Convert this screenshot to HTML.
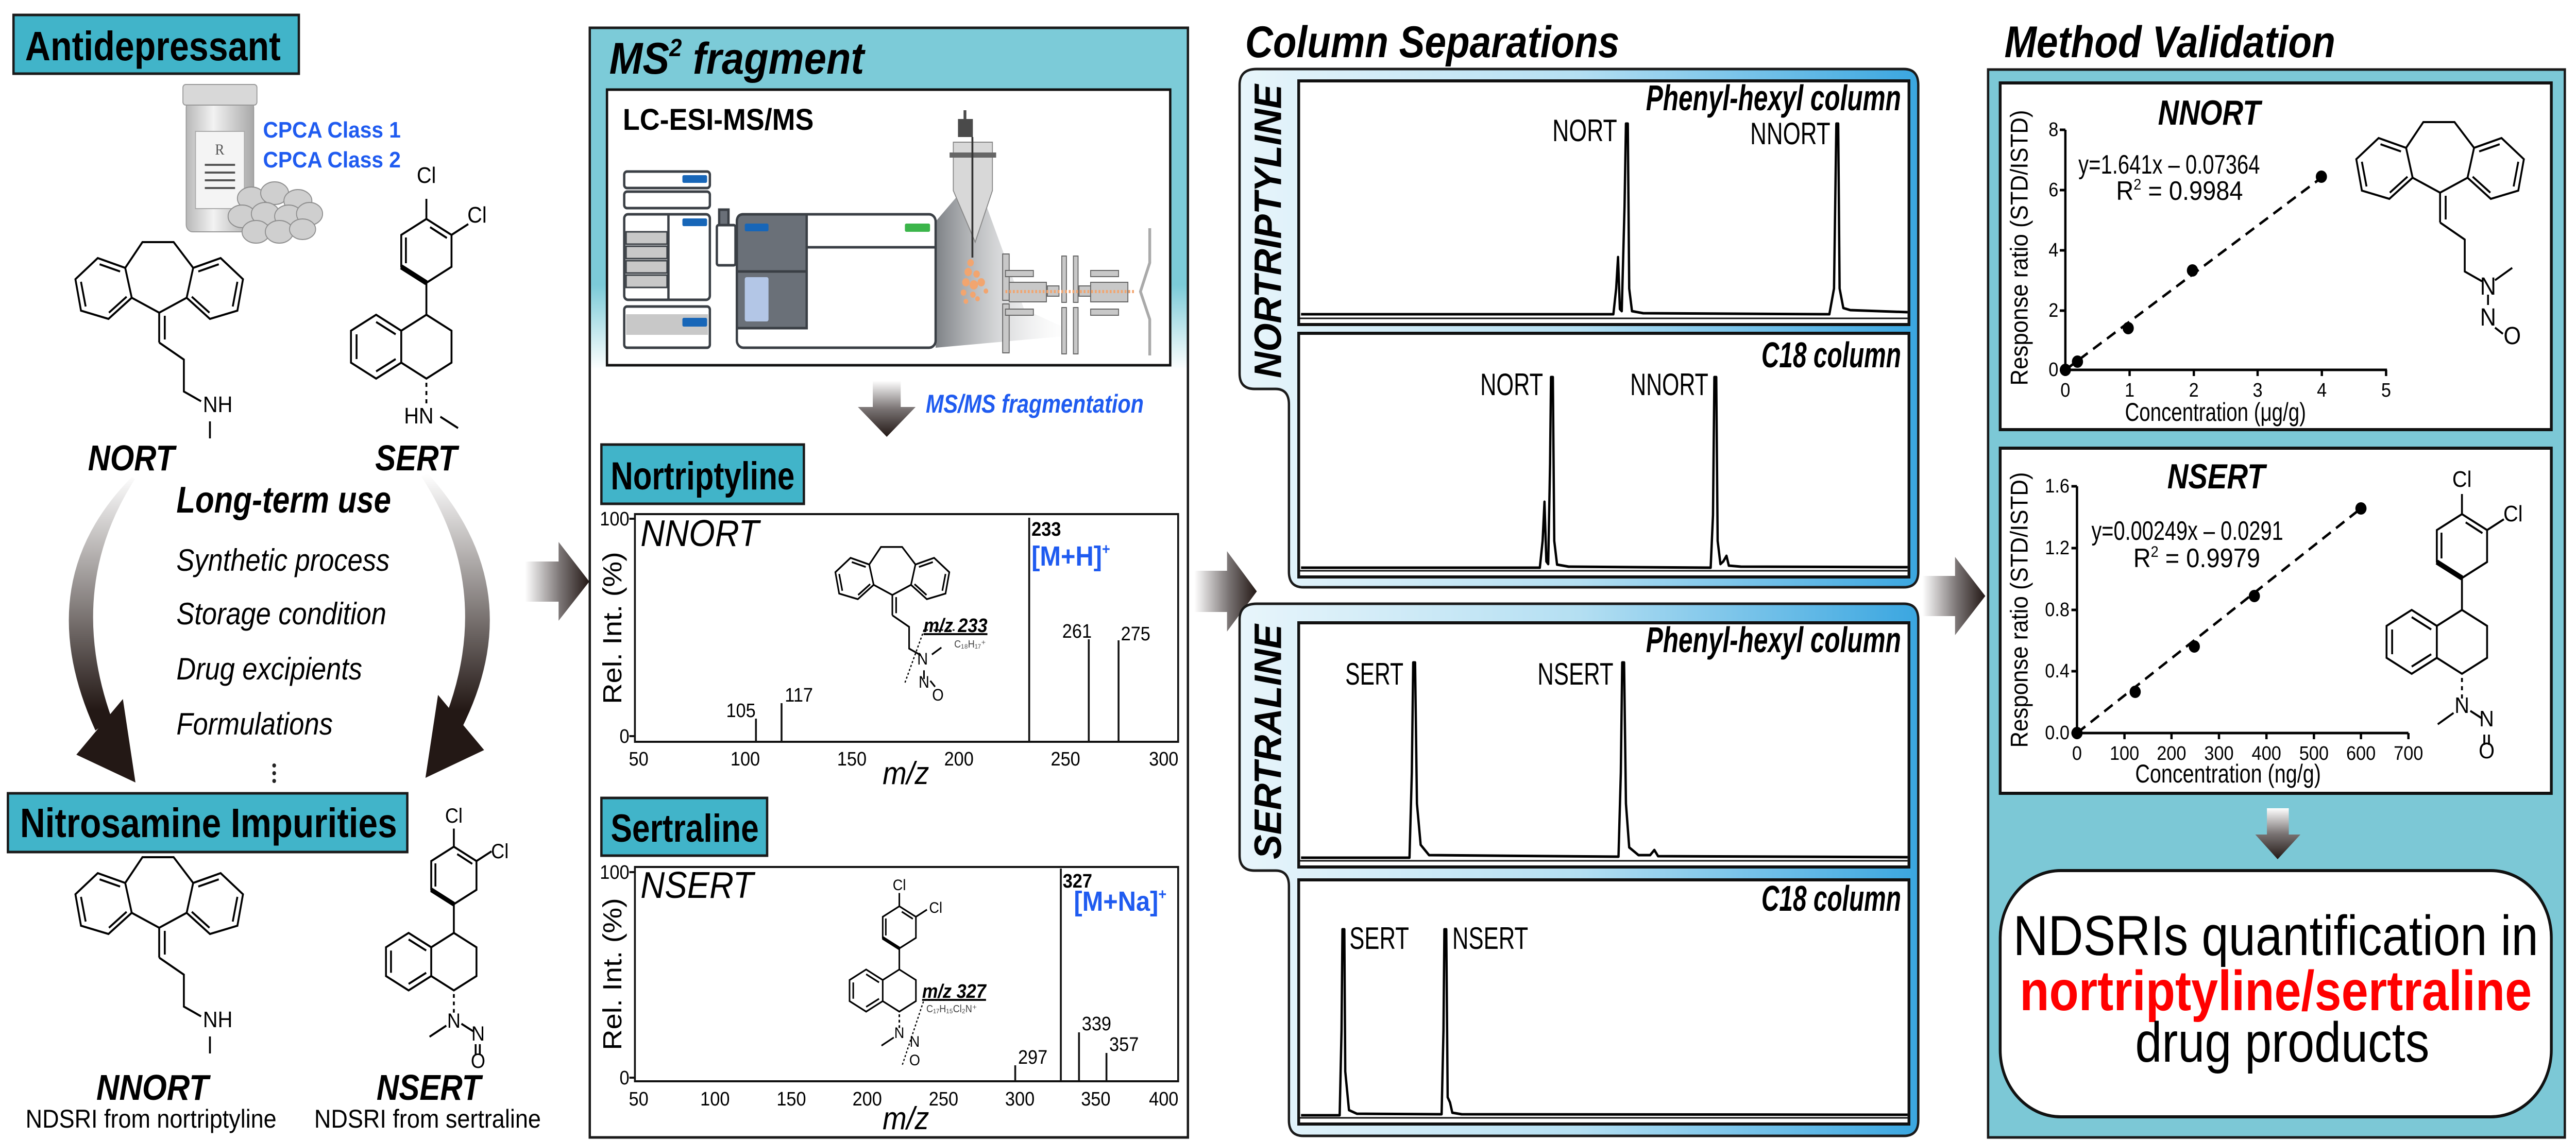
<!DOCTYPE html>
<html><head><meta charset="utf-8"><style>
html,body{margin:0;padding:0;background:#fff;width:100%;height:100%;overflow:hidden;}
svg{display:block;width:100vw;height:100vh;font-family:"Liberation Sans",Arial,sans-serif;}
</style></head><body>
<svg viewBox="0 0 5534 2213" preserveAspectRatio="none" xmlns="http://www.w3.org/2000/svg">
<defs>
<linearGradient id="msbg" x1="0" y1="54" x2="0" y2="720" gradientUnits="userSpaceOnUse"><stop offset="0" stop-color="#7ccbd8"/><stop offset="0.75" stop-color="#7ccbd8"/><stop offset="1" stop-color="#ffffff"/></linearGradient>
<linearGradient id="colg" x1="0" y1="0" x2="1" y2="0"><stop offset="0" stop-color="#e8f5fb"/><stop offset="0.5" stop-color="#b4dff2"/><stop offset="1" stop-color="#3aa6e0"/></linearGradient>
<linearGradient id="harr" x1="0" y1="0" x2="1" y2="0"><stop offset="0" stop-color="#ffffff"/><stop offset="0.55" stop-color="#7a7474"/><stop offset="1" stop-color="#231815"/></linearGradient>
<linearGradient id="varr" x1="0" y1="0" x2="0" y2="1"><stop offset="0" stop-color="#ffffff"/><stop offset="0.5" stop-color="#7a7474"/><stop offset="1" stop-color="#231815"/></linearGradient>
<linearGradient id="carr" x1="0" y1="920" x2="0" y2="1380" gradientUnits="userSpaceOnUse"><stop offset="0" stop-color="#ffffff"/><stop offset="1" stop-color="#231815"/></linearGradient>
<linearGradient id="bottle" x1="0" y1="0" x2="1" y2="0"><stop offset="0" stop-color="#b8b8b8"/><stop offset="0.4" stop-color="#f2f2f2"/><stop offset="1" stop-color="#a8a8a8"/></linearGradient>
<linearGradient id="cone" x1="0" y1="0" x2="1" y2="0"><stop offset="0" stop-color="#6f7378"/><stop offset="1" stop-color="#ffffff" stop-opacity="0"/></linearGradient>
</defs>

<rect x="29" y="29" width="613" height="114" fill="#41b4c9" stroke="#1a1a1a" stroke-width="5"/>
<text x="54" y="117" font-size="80" font-weight="bold" textLength="549" lengthAdjust="spacingAndGlyphs">Antidepressant</text>

<rect x="400" y="195" width="145" height="255" rx="14" fill="url(#bottle)" stroke="#999" stroke-width="2"/>
<rect x="393" y="164" width="159" height="40" rx="6" fill="#d8d8d8" stroke="#999" stroke-width="2"/>
<rect x="420" y="255" width="105" height="150" fill="#f4f4f4" stroke="#aaa" stroke-width="2"/>
<text x="462" y="300" font-family="Liberation Serif,serif" font-size="30" fill="#555">R</text>
<path d="M440 320 H505 M440 335 H505 M440 350 H505 M440 365 H505" stroke="#555" stroke-width="4"/>
<g fill="#cfcfcf" stroke="#8e8e8e" stroke-width="2">
<ellipse cx="540" cy="385" rx="30" ry="22"/><ellipse cx="590" cy="375" rx="30" ry="22"/><ellipse cx="640" cy="390" rx="30" ry="22"/>
<ellipse cx="520" cy="420" rx="30" ry="22"/><ellipse cx="570" cy="415" rx="30" ry="22"/><ellipse cx="620" cy="420" rx="30" ry="22"/><ellipse cx="665" cy="415" rx="28" ry="22"/>
<ellipse cx="550" cy="450" rx="30" ry="22"/><ellipse cx="600" cy="450" rx="30" ry="22"/><ellipse cx="650" cy="445" rx="28" ry="20"/>
</g>
<text x="565" y="267" font-size="44" font-weight="bold" fill="#1f5bf0" textLength="296" lengthAdjust="spacingAndGlyphs">CPCA Class 1</text>
<text x="565" y="325" font-size="44" font-weight="bold" fill="#1f5bf0" textLength="296" lengthAdjust="spacingAndGlyphs">CPCA Class 2</text>

<g transform="translate(342,607)" fill="none" stroke="#000" stroke-width="4">
<path d="M0,0 L-59,-29 L-109,12 L-168,-4 L-180,-65 L-132,-106 L-73,-87 L-59,-29 M-73,-87 L-36,-137 L31,-137 L73,-87 L59,-29 L0,0 M59,-29 L109,12 L168,-4 L180,-65 L132,-106 L73,-87"/>
<path d="M-168,-60 L-158,-12 M-108,0 L-70,-31 M-84,-80 L-128,-94 M168,-60 L158,-12 M108,0 L70,-31 M84,-80 L128,-94"/>
<path d="M0,0 L0,58 M12,6 L12,52 M0,58 L53,91 L53,153 L90,172 M109,211 L109,244"/>
</g>
<text x="436" y="800" font-size="44">NH</text>
<text x="189" y="913" font-size="70" font-weight="bold" font-style="italic" textLength="186" lengthAdjust="spacingAndGlyphs">NORT</text>

<g transform="translate(916,611)" fill="none" stroke="#000" stroke-width="4">
<path d="M0,-62 L54,-93 L54,-155 L0,-186 L-54,-155 L-54,-93 Z M8,-170 L44,-149 M-44,-100 L-44,-150 M0,0 L0,-62"/>
<path d="M0,-62 L-54,-93" stroke-width="10"/>
<path d="M0,-186 L0,-225 M54,-155 L90,-176"/>
<path d="M0,0 L54,31 L54,93 L0,124 L-54,93 L-54,31 Z M-54,31 L-108,0 L-162,31 L-162,93 L-108,124 L-54,93 M-150,38 L-150,86 M-108,14 L-66,38 M-108,110 L-66,86"/>
<path d="M0,132 L0,140 M0,148 L0,156 M0,164 L0,172 M30,198 L68,220"/>
</g>
<text x="916" y="355" font-size="44" text-anchor="middle">Cl</text>
<text x="1004" y="432" font-size="44">Cl</text>
<text x="868" y="822" font-size="44">HN</text>
<text x="806" y="913" font-size="70" font-weight="bold" font-style="italic" textLength="176" lengthAdjust="spacingAndGlyphs">SERT</text>

<text x="379" y="995" font-size="72" font-weight="bold" font-style="italic" textLength="461" lengthAdjust="spacingAndGlyphs">Long-term use</text>
<text x="379" y="1108" font-size="60" font-style="italic" textLength="458" lengthAdjust="spacingAndGlyphs">Synthetic process</text>
<text x="379" y="1212" font-size="60" font-style="italic" textLength="451" lengthAdjust="spacingAndGlyphs">Storage condition</text>
<text x="379" y="1319" font-size="60" font-style="italic" textLength="399" lengthAdjust="spacingAndGlyphs">Drug excipients</text>
<text x="379" y="1426" font-size="60" font-style="italic" textLength="336" lengthAdjust="spacingAndGlyphs">Formulations</text>
<g fill="#222"><circle cx="589" cy="1486" r="4"/><circle cx="589" cy="1501" r="4"/><circle cx="589" cy="1516" r="4"/></g>

<path d="M283,926 Q60,1130 205,1418 L240,1395 Q140,1140 290,930 Z" fill="url(#carr)"/>
<path d="M164,1465 L264,1357 L291,1519 Z" fill="#231815"/>
<path d="M918,918 Q1140,1140 995,1408 L960,1385 Q1060,1140 905,925 Z" fill="url(#carr)"/>
<path d="M941,1349 L1040,1456 L914,1510 Z" fill="#231815"/>

<rect x="17" y="1540" width="858" height="114" fill="#41b4c9" stroke="#1a1a1a" stroke-width="5"/>
<text x="43" y="1625" font-size="80" font-weight="bold" textLength="810" lengthAdjust="spacingAndGlyphs">Nitrosamine Impurities</text>

<g transform="translate(342,1801)" fill="none" stroke="#000" stroke-width="4">
<path d="M0,0 L-59,-29 L-109,12 L-168,-4 L-180,-65 L-132,-106 L-73,-87 L-59,-29 M-73,-87 L-36,-137 L31,-137 L73,-87 L59,-29 L0,0 M59,-29 L109,12 L168,-4 L180,-65 L132,-106 L73,-87"/>
<path d="M-168,-60 L-158,-12 M-108,0 L-70,-31 M-84,-80 L-128,-94 M168,-60 L158,-12 M108,0 L70,-31 M84,-80 L128,-94"/>
<path d="M0,0 L0,58 M12,6 L12,52 M0,58 L53,91 L53,153 L90,172 M109,211 L109,244"/>
</g>
<text x="436" y="1994" font-size="44">NH</text>
<text x="207" y="2135" font-size="70" font-weight="bold" font-style="italic" textLength="241" lengthAdjust="spacingAndGlyphs">NNORT</text>
<text x="55" y="2189" font-size="50" textLength="539" lengthAdjust="spacingAndGlyphs">NDSRI from nortriptyline</text>

<g transform="translate(975,1811) scale(0.9)" fill="none" stroke="#000" stroke-width="4.4">
<path d="M0,-62 L54,-93 L54,-155 L0,-186 L-54,-155 L-54,-93 Z M8,-170 L44,-149 M-44,-100 L-44,-150 M0,0 L0,-62"/>
<path d="M0,-62 L-54,-93" stroke-width="10"/>
<path d="M0,-186 L0,-225 M54,-155 L90,-176"/>
<path d="M0,0 L54,31 L54,93 L0,124 L-54,93 L-54,31 Z M-54,31 L-108,0 L-162,31 L-162,93 L-108,124 L-54,93 M-150,38 L-150,86 M-108,14 L-66,38 M-108,110 L-66,86"/>
<path d="M0,132 L0,140 M0,148 L0,156 M0,164 L0,172 M-18,200 L-58,224 M18,196 L46,212 M52,240 L52,262 M62,240 L62,262"/>
</g>
<text x="975" y="1597" font-size="40" text-anchor="middle">Cl</text>
<text x="1055" y="1666" font-size="40">Cl</text>
<text x="975" y="1995" font-size="40" text-anchor="middle">N</text>
<text x="1027" y="2020" font-size="40" text-anchor="middle">N</text>
<text x="1027" y="2073" font-size="40" text-anchor="middle">O</text>
<text x="809" y="2135" font-size="70" font-weight="bold" font-style="italic" textLength="224" lengthAdjust="spacingAndGlyphs">NSERT</text>
<text x="675" y="2189" font-size="50" textLength="487" lengthAdjust="spacingAndGlyphs">NDSRI from sertraline</text>

<path d="M1128,1090 H1200 V1052 L1266,1129 L1200,1205 V1168 H1128 Z" fill="url(#harr)"/>

<rect x="1267" y="54" width="1285" height="2154" fill="url(#msbg)" stroke="#1a1a1a" stroke-width="5"/>
<text x="1309" y="143" font-size="86" font-weight="bold" font-style="italic">MS<tspan font-size="48" dy="-34">2</tspan><tspan dy="34"> fragment</tspan></text>
<rect x="1304" y="174" width="1210" height="535" fill="#fff" stroke="#111" stroke-width="5"/>
<text x="1338" y="252" font-size="58" font-weight="bold" textLength="410" lengthAdjust="spacingAndGlyphs">LC-ESI-MS/MS</text>
<polygon points="2010,430 2095,340 2200,600 2320,650 2010,675" fill="url(#cone)" opacity="0.9"/>
<g stroke="#3a3f45" stroke-width="5" fill="#fff">
<rect x="1341" y="333" width="184" height="32" rx="6"/>
<rect x="1341" y="372" width="184" height="32" rx="6"/>
<rect x="1341" y="416" width="184" height="166" rx="8"/>
<rect x="1341" y="595" width="184" height="80" rx="6"/>
<rect x="1545" y="407" width="20" height="30" fill="#6a7078"/>
<rect x="1540" y="437" width="40" height="78" rx="4"/>
<rect x="1583" y="416" width="427" height="259" rx="14"/>
<path d="M1583,430 Q1583,416 1597,416 H1733 V637 H1583 Z" fill="#6a7078"/>
<line x1="1733" y1="480" x2="2010" y2="480"/>
<line x1="1583" y1="527" x2="1733" y2="527"/>
<line x1="1436" y1="416" x2="1436" y2="582"/>
</g>
<rect x="1345" y="610" width="176" height="40" fill="#c8c8c8"/>
<g fill="#c8c8c8" stroke="#3a3f45" stroke-width="3"><rect x="1345" y="450" width="88" height="24"/><rect x="1345" y="478" width="88" height="24"/><rect x="1345" y="506" width="88" height="24"/><rect x="1345" y="534" width="88" height="24"/></g>
<g fill="#1766b8"><rect x="1466" y="340" width="53" height="15" rx="3"/><rect x="1466" y="424" width="53" height="15" rx="3"/><rect x="1466" y="617" width="53" height="17" rx="3"/><rect x="1600" y="434" width="51" height="15" rx="3"/></g>
<rect x="1944" y="434" width="54" height="16" rx="3" fill="#3bb54a"/>
<rect x="1600" y="538" width="51" height="86" rx="4" fill="#b3c6e6"/>
<rect x="2058" y="231" width="32" height="35" fill="#4a4a4a"/>
<rect x="2070" y="214" width="6" height="18" fill="#4a4a4a"/>
<path d="M2048,276 H2132 V370 L2095,470 L2048,370 Z" fill="#d8d8d8" stroke="#888" stroke-width="2"/>
<rect x="2040" y="296" width="100" height="10" fill="#666"/>
<line x1="2089" y1="266" x2="2089" y2="500" stroke="#333" stroke-width="4"/>
<g fill="#f2a56f"><circle cx="2085" cy="510" r="7"/><circle cx="2080" cy="528" r="8"/><circle cx="2098" cy="532" r="7"/><circle cx="2075" cy="548" r="8"/><circle cx="2092" cy="553" r="9"/><circle cx="2108" cy="548" r="8"/><circle cx="2070" cy="568" r="6"/><circle cx="2090" cy="572" r="6"/><circle cx="2075" cy="585" r="5"/><circle cx="2100" cy="580" r="5"/><circle cx="2118" cy="565" r="5"/></g>
<g fill="#c8c8c8" stroke="#666" stroke-width="2">
<rect x="2154" y="493" width="14" height="90"/><rect x="2154" y="590" width="14" height="95"/>
<rect x="2160" y="525" width="60" height="12"/><rect x="2160" y="600" width="60" height="12"/>
<rect x="2168" y="548" width="80" height="38"/><rect x="2250" y="555" width="25" height="20"/>
<rect x="2281" y="497" width="10" height="90"/><rect x="2306" y="497" width="10" height="90"/>
<rect x="2281" y="597" width="10" height="90"/><rect x="2306" y="597" width="10" height="90"/>
<rect x="2318" y="555" width="25" height="20"/><rect x="2343" y="548" width="80" height="38"/>
<rect x="2343" y="525" width="60" height="12"/><rect x="2343" y="600" width="60" height="12"/>
</g>
<line x1="2160" y1="566" x2="2440" y2="566" stroke="#f2a56f" stroke-width="6" stroke-dasharray="4 4"/>
<path d="M2470,443 V510 L2450,566 L2470,620 V690" fill="none" stroke="#aaa" stroke-width="6"/>

<path d="M1875,739 H1935 V790 H1967 L1905,848 L1843,790 H1875 Z" fill="url(#varr)"/>
<text x="1989" y="801" font-size="50" font-weight="bold" font-style="italic" fill="#1f5bf0" textLength="468" lengthAdjust="spacingAndGlyphs">MS/MS fragmentation</text>

<rect x="1292" y="863" width="435" height="115" fill="#41b4c9" stroke="#1a1a1a" stroke-width="5"/>
<text x="1312" y="950" font-size="76" font-weight="bold" textLength="395" lengthAdjust="spacingAndGlyphs">Nortriptyline</text>
<rect x="1364" y="998" width="1167" height="442" fill="none" stroke="#111" stroke-width="4"/>
<g stroke="#111" stroke-width="4"><line x1="1352" y1="1007" x2="1364" y2="1007"/><line x1="1352" y1="1429" x2="1364" y2="1429"/>
<line x1="1624" y1="1440" x2="1624" y2="1395"/><line x1="1679" y1="1440" x2="1679" y2="1365"/><line x1="2211" y1="1440" x2="2211" y2="1005"/><line x1="2339" y1="1440" x2="2339" y2="1241"/><line x1="2403" y1="1440" x2="2403" y2="1243"/></g>
<g font-size="38" text-anchor="end"><text x="1352" y="1020">100</text><text x="1352" y="1442">0</text></g>
<g font-size="38" text-anchor="middle"><text x="1372" y="1486">50</text><text x="1601" y="1486">100</text><text x="1830" y="1486">150</text><text x="2060" y="1486">200</text><text x="2289" y="1486">250</text><text x="2500" y="1486">300</text></g>
<text x="1946" y="1522" font-size="62" font-style="italic" text-anchor="middle">m/z</text>
<text transform="translate(1335,1219) rotate(-90)" font-size="56" text-anchor="middle">Rel. Int. (%)</text>
<text x="1376" y="1060" font-size="72" font-style="italic">NNORT</text>
<g font-size="38"><text x="1560" y="1392">105</text><text x="1686" y="1362">117</text><text x="2216" y="1040" font-weight="bold">233</text><text x="2282" y="1238">261</text><text x="2408" y="1243">275</text></g>
<text x="2216" y="1098" font-size="54" font-weight="bold" fill="#1f5bf0">[M+H]<tspan font-size="30" dy="-22">+</tspan></text>
<g transform="translate(1917,1155) scale(0.68)" fill="none" stroke="#000" stroke-width="5">
<path d="M0,0 L-59,-29 L-109,12 L-168,-4 L-180,-65 L-132,-106 L-73,-87 L-59,-29 M-73,-87 L-36,-137 L31,-137 L73,-87 L59,-29 L0,0 M59,-29 L109,12 L168,-4 L180,-65 L132,-106 L73,-87"/>
<path d="M-168,-60 L-158,-12 M-108,0 L-70,-31 M-84,-80 L-128,-94 M168,-60 L158,-12 M108,0 L70,-31 M84,-80 L128,-94"/>
<path d="M0,0 L0,58 M12,6 L12,52 M0,58 L53,91 L53,153 L90,172 M125,170 L155,150 M100,215 L100,240 M120,245 L135,262"/>
<path d="M40,250 L100,100 L200,100" stroke-dasharray="6 6" stroke-width="4"/>
</g>
<text x="1984" y="1227" font-size="38" font-weight="bold" font-style="italic" text-decoration="underline">m/z 233</text>
<text x="2050" y="1257" font-size="20" fill="#444">C₁₈H₁₇⁺</text>
<text x="1982" y="1290" font-size="32" text-anchor="middle">N</text>
<text x="1985" y="1335" font-size="32" text-anchor="middle">N</text>
<text x="2015" y="1360" font-size="32" text-anchor="middle">O</text>

<rect x="1292" y="1549" width="356" height="112" fill="#41b4c9" stroke="#1a1a1a" stroke-width="5"/>
<text x="1312" y="1634" font-size="76" font-weight="bold" textLength="318" lengthAdjust="spacingAndGlyphs">Sertraline</text>
<rect x="1364" y="1683" width="1167" height="416" fill="none" stroke="#111" stroke-width="4"/>
<g stroke="#111" stroke-width="4"><line x1="1352" y1="1693" x2="1364" y2="1693"/><line x1="1352" y1="2092" x2="1364" y2="2092"/>
<line x1="2181" y1="2099" x2="2181" y2="2068"/><line x1="2279" y1="2099" x2="2279" y2="1686"/><line x1="2318" y1="2099" x2="2318" y2="2004"/><line x1="2377" y1="2099" x2="2377" y2="2044"/></g>
<g font-size="38" text-anchor="end"><text x="1352" y="1706">100</text><text x="1352" y="2105">0</text></g>
<g font-size="38" text-anchor="middle"><text x="1372" y="2146">50</text><text x="1536" y="2146">100</text><text x="1700" y="2146">150</text><text x="1863" y="2146">200</text><text x="2027" y="2146">250</text><text x="2191" y="2146">300</text><text x="2354" y="2146">350</text><text x="2500" y="2146">400</text></g>
<text x="1946" y="2192" font-size="62" font-style="italic" text-anchor="middle">m/z</text>
<text transform="translate(1335,1891) rotate(-90)" font-size="56" text-anchor="middle">Rel. Int. (%)</text>
<text x="1376" y="1743" font-size="72" font-style="italic">NSERT</text>
<g font-size="38"><text x="2187" y="2065">297</text><text x="2283" y="1723" font-weight="bold">327</text><text x="2324" y="2000">339</text><text x="2383" y="2040">357</text></g>
<text x="2307" y="1768" font-size="54" font-weight="bold" fill="#1f5bf0">[M+Na]<tspan font-size="30" dy="-22">+</tspan></text>
<g transform="translate(1932,1882) scale(0.66)" fill="none" stroke="#000" stroke-width="5">
<path d="M0,-62 L54,-93 L54,-155 L0,-186 L-54,-155 L-54,-93 Z M8,-170 L44,-149 M-44,-100 L-44,-150 M0,0 L0,-62"/>
<path d="M0,-62 L-54,-93" stroke-width="10"/>
<path d="M0,-186 L0,-225 M54,-155 L90,-176"/>
<path d="M0,0 L54,31 L54,93 L0,124 L-54,93 L-54,31 Z M-54,31 L-108,0 L-162,31 L-162,93 L-108,124 L-54,93 M-150,38 L-150,86 M-108,14 L-66,38 M-108,110 L-66,86"/>
<path d="M0,132 L0,140 M0,148 L0,156 M0,164 L0,172 M-18,200 L-58,224"/>
<path d="M10,280 L80,90 L150,90" stroke-dasharray="6 6" stroke-width="4"/>
</g>
<text x="1932" y="1728" font-size="30" text-anchor="middle">Cl</text>
<text x="1996" y="1772" font-size="30">Cl</text>
<text x="1981" y="1937" font-size="38" font-weight="bold" font-style="italic" text-decoration="underline">m/z 327</text>
<text x="1990" y="1965" font-size="20" fill="#444">C₁₇H₁₅Cl₂N⁺</text>
<text x="1932" y="2015" font-size="30" text-anchor="middle">N</text>
<text x="1965" y="2032" font-size="30" text-anchor="middle">N</text>
<text x="1965" y="2068" font-size="30" text-anchor="middle">O</text>

<path d="M2566,1108 H2636 V1070 L2700,1148 L2636,1226 V1188 H2566 Z" fill="url(#harr)"/>

<text x="2675" y="111" font-size="86" font-weight="bold" font-style="italic" textLength="804" lengthAdjust="spacingAndGlyphs">Column Separations</text>
<path d="M2700,134 L4090,134 Q4121,134 4121,165 L4121,1110 Q4121,1140 4090,1140 L2800,1140 Q2769,1140 2769,1110 L2769,785 Q2769,755 2740,755 L2695,755 Q2663,755 2663,725 L2663,165 Q2663,134 2700,134 Z" fill="url(#colg)" stroke="#1a1a1a" stroke-width="5"/>
<path d="M2700,1172 L4090,1172 Q4121,1172 4121,1203 L4121,2175 Q4121,2205 4090,2205 L2800,2205 Q2769,2205 2769,2175 L2769,1720 Q2769,1690 2740,1690 L2695,1690 Q2663,1690 2663,1660 L2663,1203 Q2663,1172 2700,1172 Z" fill="url(#colg)" stroke="#1a1a1a" stroke-width="5"/>
<text transform="translate(2752,449) rotate(-90)" font-size="82" font-weight="bold" font-style="italic" text-anchor="middle" textLength="570" lengthAdjust="spacingAndGlyphs">NORTRIPTYLINE</text>
<text transform="translate(2752,1440) rotate(-90)" font-size="82" font-weight="bold" font-style="italic" text-anchor="middle" textLength="456" lengthAdjust="spacingAndGlyphs">SERTRALINE</text>
<g fill="#fff" stroke="#111" stroke-width="6">
<rect x="2790" y="157" width="1311" height="473"/><rect x="2790" y="647" width="1311" height="473"/>
<rect x="2790" y="1209" width="1311" height="474"/><rect x="2790" y="1708" width="1311" height="474"/>
</g>
<g stroke="#111" stroke-width="3"><line x1="2793" y1="618" x2="4098" y2="618"/><line x1="2793" y1="1108" x2="4098" y2="1108"/><line x1="2793" y1="1671" x2="4098" y2="1671"/><line x1="2793" y1="2170" x2="4098" y2="2170"/></g>
<g fill="none" stroke="#000" stroke-width="5" stroke-linejoin="round">
<path d="M2795,610 L3466,610 L3472,560 L3476,499 L3480,600 L3484,604 L3490,400 L3493,240 L3497,240 L3500,560 L3506,604 L3530,608 L3930,610 L3940,560 L3945,240 L3949,240 L3952,560 L3960,598 L3975,602 L4098,606"/>
<path d="M2795,1102 L3308,1102 L3314,1050 L3318,974 L3322,1090 L3326,1095 L3330,900 L3332,732 L3336,732 L3339,1050 L3345,1096 L3370,1100 L3675,1102 L3680,1000 L3683,732 L3687,732 L3690,1050 L3696,1095 L3702,1090 L3709,1079 L3714,1098 L3740,1100 L4098,1101"/>
<path d="M2795,1665 L3028,1665 L3033,1500 L3036,1286 L3040,1286 L3044,1560 L3052,1640 L3070,1660 L3477,1663 L3482,1500 L3485,1286 L3489,1286 L3493,1560 L3500,1645 L3520,1660 L3545,1660 L3554,1650 L3562,1662 L4098,1664"/>
<path d="M2795,2165 L2878,2165 L2882,2000 L2884,1804 L2888,1804 L2890,2080 L2898,2155 L2915,2162 L3097,2163 L3101,2000 L3103,1804 L3107,1804 L3110,2130 L3115,2140 L3120,2160 L3140,2163 L4098,2164"/>
</g>
<g font-size="70" font-weight="bold" font-style="italic" text-anchor="end">
<text x="4084" y="214" textLength="548" lengthAdjust="spacingAndGlyphs">Phenyl-hexyl column</text>
<text x="4084" y="713" textLength="300" lengthAdjust="spacingAndGlyphs">C18 column</text>
<text x="4084" y="1266" textLength="548" lengthAdjust="spacingAndGlyphs">Phenyl-hexyl column</text>
<text x="4084" y="1768" textLength="300" lengthAdjust="spacingAndGlyphs">C18 column</text>
</g>
<g font-size="60">
<text x="3335" y="274" textLength="139" lengthAdjust="spacingAndGlyphs">NORT</text>
<text x="3760" y="280" textLength="172" lengthAdjust="spacingAndGlyphs">NNORT</text>
<text x="3180" y="767" textLength="135" lengthAdjust="spacingAndGlyphs">NORT</text>
<text x="3502" y="767" textLength="168" lengthAdjust="spacingAndGlyphs">NNORT</text>
<text x="2890" y="1329" textLength="125" lengthAdjust="spacingAndGlyphs">SERT</text>
<text x="3303" y="1329" textLength="163" lengthAdjust="spacingAndGlyphs">NSERT</text>
<text x="2899" y="1842" textLength="128" lengthAdjust="spacingAndGlyphs">SERT</text>
<text x="3120" y="1842" textLength="163" lengthAdjust="spacingAndGlyphs">NSERT</text>
</g>

<path d="M4130,1118 H4200 V1081 L4265,1157 L4200,1233 V1196 H4130 Z" fill="url(#harr)"/>

<text x="4306" y="111" font-size="86" font-weight="bold" font-style="italic" textLength="711" lengthAdjust="spacingAndGlyphs">Method Validation</text>
<rect x="4271" y="135" width="1239" height="2073" fill="#7cc8d6" stroke="#1a1a1a" stroke-width="5"/>
<rect x="4297" y="161" width="1184" height="673" fill="#fff" stroke="#111" stroke-width="6"/>
<rect x="4297" y="870" width="1184" height="670" fill="#fff" stroke="#111" stroke-width="6"/>

<g stroke="#000" stroke-width="5" fill="none">
<path d="M4437,252 V718 H5128"/>
<path d="M4425,252 H4437 M4425,369 H4437 M4425,486 H4437 M4425,603 H4437 M4425,718 H4437 M4437,718 V730 M4575,718 V730 M4713,718 V730 M4850,718 V730 M4988,718 V730 M5126,718 V730"/>
<path d="M4437,718 L4987,345" stroke-dasharray="22 14"/>
</g>
<g fill="#000"><circle cx="4437" cy="718" r="12"/><circle cx="4463" cy="702" r="12"/><circle cx="4572" cy="637" r="12"/><circle cx="4710" cy="525" r="12"/><circle cx="4987" cy="343" r="12"/></g>
<g font-size="38" text-anchor="end"><text x="4422" y="264">8</text><text x="4422" y="381">6</text><text x="4422" y="498">4</text><text x="4422" y="615">2</text><text x="4422" y="730">0</text></g>
<g font-size="38" text-anchor="middle"><text x="4437" y="770">0</text><text x="4575" y="770">1</text><text x="4713" y="770">2</text><text x="4850" y="770">3</text><text x="4988" y="770">4</text><text x="5126" y="770">5</text></g>
<text x="4565" y="817" font-size="50" textLength="389" lengthAdjust="spacingAndGlyphs">Concentration (μg/g)</text>
<text transform="translate(4356,481) rotate(-90)" font-size="52" text-anchor="middle" textLength="535" lengthAdjust="spacingAndGlyphs">Response ratio (STD/ISTD)</text>
<text x="4746" y="242" font-size="68" font-weight="bold" font-style="italic" text-anchor="middle" textLength="220" lengthAdjust="spacingAndGlyphs">NNORT</text>
<text x="4465" y="337" font-size="52" textLength="390" lengthAdjust="spacingAndGlyphs">y=1.641x – 0.07364</text>
<text x="4546" y="388" font-size="52">R<tspan font-size="30" dy="-20">2</tspan><tspan dy="20"> = 0.9984</tspan></text>
<g transform="translate(5242,374)" fill="none" stroke="#000" stroke-width="4">
<path d="M0,0 L-59,-29 L-109,12 L-168,-4 L-180,-65 L-132,-106 L-73,-87 L-59,-29 M-73,-87 L-36,-137 L31,-137 L73,-87 L59,-29 L0,0 M59,-29 L109,12 L168,-4 L180,-65 L132,-106 L73,-87"/>
<path d="M-168,-60 L-158,-12 M-108,0 L-70,-31 M-84,-80 L-128,-94 M168,-60 L158,-12 M108,0 L70,-31 M84,-80 L128,-94"/>
<path d="M0,0 L0,58 M12,6 L12,52 M0,58 L53,91 L53,153 L90,172 M118,170 L155,146 M103,198 L103,218 M118,262 L135,274"/>
</g>
<text x="5345" y="572" font-size="48" text-anchor="middle">N</text>
<text x="5345" y="632" font-size="48" text-anchor="middle">N</text>
<text x="5397" y="668" font-size="48" text-anchor="middle">O</text>

<g stroke="#000" stroke-width="5" fill="none">
<path d="M4462,944 V1423 H5174"/>
<path d="M4450,944 H4462 M4450,1064 H4462 M4450,1184 H4462 M4450,1303 H4462 M4450,1423 H4462 M4462,1423 V1435 M4564,1423 V1435 M4665,1423 V1435 M4767,1423 V1435 M4869,1423 V1435 M4971,1423 V1435 M5072,1423 V1435 M5174,1423 V1435"/>
<path d="M4462,1423 L5072,987" stroke-dasharray="22 14"/>
</g>
<g fill="#000"><circle cx="4462" cy="1423" r="12"/><circle cx="4587" cy="1343" r="12"/><circle cx="4714" cy="1255" r="12"/><circle cx="4843" cy="1157" r="12"/><circle cx="5072" cy="987" r="12"/></g>
<g font-size="38" text-anchor="end"><text x="4446" y="956">1.6</text><text x="4446" y="1076">1.2</text><text x="4446" y="1196">0.8</text><text x="4446" y="1315">0.4</text><text x="4446" y="1435">0.0</text></g>
<g font-size="38" text-anchor="middle"><text x="4462" y="1475">0</text><text x="4564" y="1475">100</text><text x="4665" y="1475">200</text><text x="4767" y="1475">300</text><text x="4869" y="1475">400</text><text x="4971" y="1475">500</text><text x="5072" y="1475">600</text><text x="5174" y="1475">700</text></g>
<text x="4587" y="1519" font-size="50" textLength="399" lengthAdjust="spacingAndGlyphs">Concentration (ng/g)</text>
<text transform="translate(4356,1184) rotate(-90)" font-size="52" text-anchor="middle" textLength="535" lengthAdjust="spacingAndGlyphs">Response ratio (STD/ISTD)</text>
<text x="4761" y="948" font-size="68" font-weight="bold" font-style="italic" text-anchor="middle" textLength="210" lengthAdjust="spacingAndGlyphs">NSERT</text>
<text x="4493" y="1048" font-size="52" textLength="412" lengthAdjust="spacingAndGlyphs">y=0.00249x – 0.0291</text>
<text x="4583" y="1101" font-size="52">R<tspan font-size="30" dy="-20">2</tspan><tspan dy="20"> = 0.9979</tspan></text>
<g transform="translate(5289,1184)" fill="none" stroke="#000" stroke-width="4">
<path d="M0,-62 L54,-93 L54,-155 L0,-186 L-54,-155 L-54,-93 Z M8,-170 L44,-149 M-44,-100 L-44,-150 M0,0 L0,-62"/>
<path d="M0,-62 L-54,-93" stroke-width="10"/>
<path d="M0,-186 L0,-225 M54,-155 L90,-176"/>
<path d="M0,0 L54,31 L54,93 L0,124 L-54,93 L-54,31 Z M-54,31 L-108,0 L-162,31 L-162,93 L-108,124 L-54,93 M-150,38 L-150,86 M-108,14 L-66,38 M-108,110 L-66,86"/>
<path d="M0,132 L0,140 M0,148 L0,156 M0,164 L0,172 M-18,200 L-52,222 M18,196 L42,210 M48,242 L48,262 M58,242 L58,262"/>
</g>
<text x="5289" y="945" font-size="44" text-anchor="middle">Cl</text>
<text x="5378" y="1012" font-size="44">Cl</text>
<text x="5289" y="1384" font-size="44" text-anchor="middle">N</text>
<text x="5342" y="1410" font-size="44" text-anchor="middle">N</text>
<text x="5342" y="1472" font-size="44" text-anchor="middle">O</text>

<path d="M4870,1569 H4917 V1620 H4942 L4893,1668 L4845,1620 H4870 Z" fill="url(#varr)"/>
<rect x="4297" y="1690" width="1184" height="478" rx="130" fill="#fff" stroke="#111" stroke-width="6"/>
<text x="4889" y="1854" font-size="110" text-anchor="middle" textLength="1128" lengthAdjust="spacingAndGlyphs">NDSRIs quantification in</text>
<text x="4889" y="1961" font-size="110" font-weight="bold" fill="#ff0000" text-anchor="middle" textLength="1100" lengthAdjust="spacingAndGlyphs">nortriptyline/sertraline</text>
<text x="4903" y="2061" font-size="110" text-anchor="middle" textLength="632" lengthAdjust="spacingAndGlyphs">drug products</text>
</svg>
</body></html>
